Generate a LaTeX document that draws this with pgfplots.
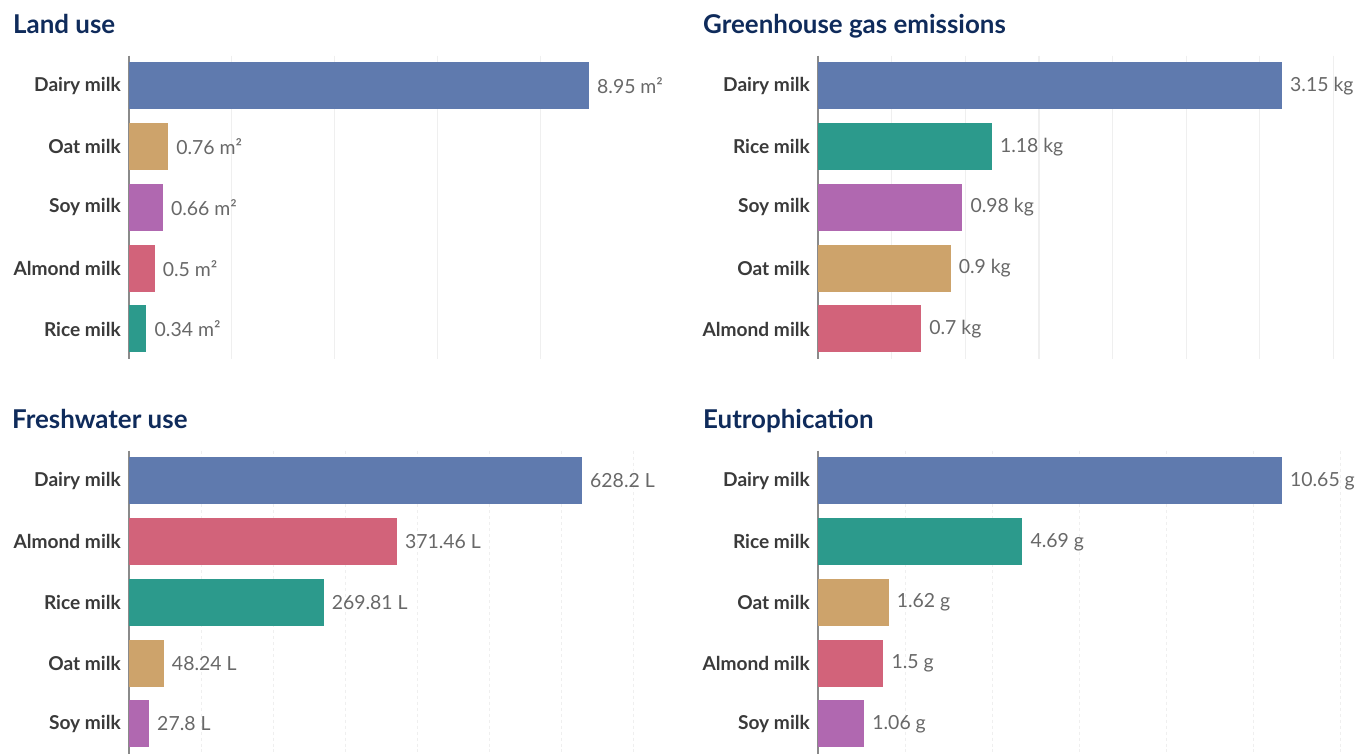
\documentclass[border=0pt]{standalone}
\usepackage{fontspec}
\setmainfont{Lato}
\usepackage{pgfplots}
\pgfplotsset{compat=1.18}
\definecolor{dairy}{HTML}{5F7AAE}
\definecolor{oat}{HTML}{CDA36B}
\definecolor{soy}{HTML}{B068B0}
\definecolor{almond}{HTML}{D2637A}
\definecolor{rice}{HTML}{2C9A8C}
\definecolor{titlec}{HTML}{0F2B5B}
\definecolor{labelc}{HTML}{3A3A3A}
\definecolor{valc}{HTML}{686868}
\definecolor{axisc}{HTML}{8A8A8A}
\definecolor{gridc}{HTML}{EFEFEF}
\pgfplotsset{milk/.style={
  xbar, scale only axis, anchor=north west,
  height=303.75bp,
  ymin=-0.5, ymax=4.5, y dir=reverse,
  xmin=0,
  bar width=47bp, bar shift=0pt,
  axis line style={draw=none},
  tick style={draw=none},
  major tick length=0pt,
  xticklabel={\relax},
  ytick={0,1,2,3,4},
  yticklabel style={font=\fontsize{19.2}{22}\selectfont\bfseries, text=labelc, inner sep=0pt, anchor=east, xshift=-8bp},
  xmajorgrids,
  grid style={gridc, line width=1.2bp},
  extra x ticks={0},
  extra x tick labels={},
  extra x tick style={grid style={axisc, line width=1.5bp, solid}},
  clip=false,
  nodes near coords, point meta=explicit symbolic,
  every node near coord/.append style={font=\fontsize{19.5}{22}\selectfont, text=valc, anchor=west, inner sep=0pt, xshift=8bp},
  every axis plot/.append style={draw=none},
}}
\begin{document}
\begin{tikzpicture}
\path[use as bounding box] (0bp,0bp) rectangle (1359bp,-756bp);
\tikzset{ttl/.style={anchor=base west, inner sep=0pt, font=\fontsize{26}{30}\selectfont\bfseries, text=titlec}}
\node[ttl] at (13bp,-33bp) {Land use};
\node[ttl] at (703bp,-33bp) {Greenhouse gas emissions};
\node[ttl] at (12bp,-428bp) {Freshwater use};
\node[ttl] at (703bp,-428bp) {Eutrophication};

% Land use
\begin{axis}[milk, at={(129bp,-55.6bp)}, width=536bp, xmax=10.43, xtick={2,4,6,8},
  yticklabels={Dairy milk,Oat milk,Soy milk,Almond milk,Rice milk}]
\addplot[fill=dairy] coordinates {(8.95,0) [8.95 m²]};
\addplot[fill=oat] coordinates {(0.76,1) [0.76 m²]};
\addplot[fill=soy] coordinates {(0.66,2) [0.66 m²]};
\addplot[fill=almond] coordinates {(0.5,3) [0.5 m²]};
\addplot[fill=rice] coordinates {(0.34,4) [0.34 m²]};
\end{axis}

% GHG
\begin{axis}[milk, at={(818bp,-55.6bp)}, width=541bp, xmax=3.673, xtick={0.5,1,1.5,2,2.5,3,3.5},
  yticklabels={Dairy milk,Rice milk,Soy milk,Oat milk,Almond milk}]
\addplot[fill=dairy] coordinates {(3.15,0) [3.15 kg]};
\addplot[fill=rice] coordinates {(1.18,1) [1.18 kg]};
\addplot[fill=soy] coordinates {(0.98,2) [0.98 kg]};
\addplot[fill=oat] coordinates {(0.9,3) [0.9 kg]};
\addplot[fill=almond] coordinates {(0.7,4) [0.7 kg]};
\end{axis}

% Freshwater
\begin{axis}[milk, at={(129bp,-450.6bp)}, width=536bp, xmax=743.3, xtick={100,200,...,700},
  grid style={dashed},
  yticklabels={Dairy milk,Almond milk,Rice milk,Oat milk,Soy milk}]
\addplot[fill=dairy] coordinates {(628.2,0) [628.2 L]};
\addplot[fill=almond] coordinates {(371.46,1) [371.46 L]};
\addplot[fill=rice] coordinates {(269.81,2) [269.81 L]};
\addplot[fill=oat] coordinates {(48.24,3) [48.24 L]};
\addplot[fill=soy] coordinates {(27.8,4) [27.8 L]};
\end{axis}

% Eutrophication
\begin{axis}[milk, at={(818bp,-450.6bp)}, width=541bp, xmax=12.42, xtick={2,4,6,8,10,12},
  grid style={dashed},
  yticklabels={Dairy milk,Rice milk,Oat milk,Almond milk,Soy milk}]
\addplot[fill=dairy] coordinates {(10.65,0) [10.65 g]};
\addplot[fill=rice] coordinates {(4.69,1) [4.69 g]};
\addplot[fill=oat] coordinates {(1.62,2) [1.62 g]};
\addplot[fill=almond] coordinates {(1.5,3) [1.5 g]};
\addplot[fill=soy] coordinates {(1.06,4) [1.06 g]};
\end{axis}
\end{tikzpicture}
\end{document}
